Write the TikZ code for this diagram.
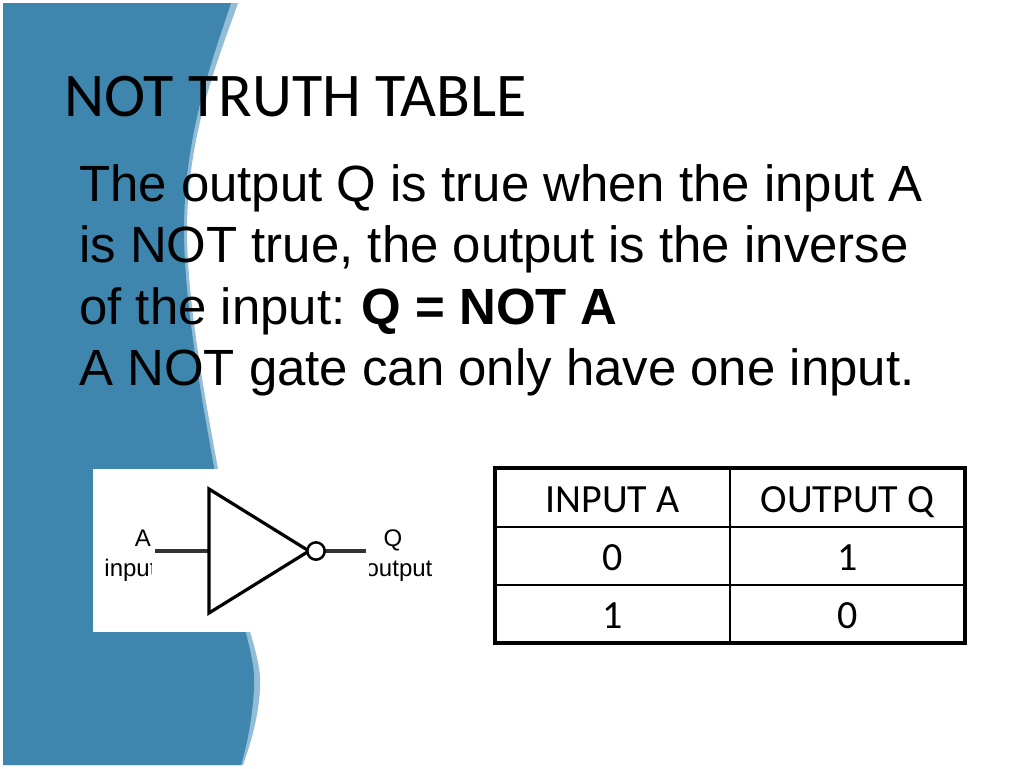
\documentclass[tikz,border=0pt]{standalone}
\usepackage{fontspec}
\setmainfont{Liberation Sans}
\newfontfamily\carlito{Carlito}
\usetikzlibrary{calc}
\definecolor{bandblue}{HTML}{3F86AF}
\definecolor{bandlight}{HTML}{93BDD6}
\tikzset{
  cell/.style={font=\carlito\fontsize{30}{36}\selectfont, inner sep=0pt, anchor=base},
  gatewire/.style={line width=3pt, black!80},
  gateline/.style={line width=2.4pt, black},
  gatelabel/.style={font=\fontsize{18}{21}\selectfont, inner sep=0pt, anchor=base},
}
\begin{document}
\begin{tikzpicture}[x=0.75pt, y=-0.75pt]
    \useasboundingbox (0,0) rectangle (1024,768);
    \fill [white] (0,0) rectangle (1024,768);
    % band on the left
    \fill [bandlight] (3,3) -- (238,3) .. controls (222,50) and (187,130) .. (187,230)
      .. controls (187,330) and (222,480) .. (240,590)
      .. controls (250,640) and (262,660) .. (260,690)
      .. controls (258,720) and (250,745) .. (243,765) -- (3,765) -- cycle;
    \fill [bandblue] (3,3) -- (231,3) .. controls (216,50) and (184,130) .. (184,230)
      .. controls (184,330) and (218,480) .. (236,590)
      .. controls (246,640) and (256,660) .. (254,690)
      .. controls (252,720) and (247,745) .. (241,765) -- (3,765) -- cycle;
    % title and text
    \node (title) [anchor=base west, inner sep=0pt, font=\carlito\fontsize{46.6}{56}\selectfont] at (64,116) {NOT TRUTH TABLE};
    \node (body) [anchor=north west, inner sep=0pt, align=left, font=\fontsize{38.2}{46.1}\selectfont] at (79,164)
      {The output Q is true when the input A\\is NOT true, the output is the inverse\\of the input: \hspace{-2pt}\textbf{Q = NOT A}\\A NOT gate can only have one input.};
    % gate picture
    \fill [white] (93,469) rectangle (445,632);
    \node (labA) [gatelabel] at (143,546) {A};
    \node (labin) [gatelabel] at (130.5,576) {input};
    \node (labQ) [gatelabel] at (393,546) {Q};
    \node (labout) [gatelabel] at (399,576) {output};
    \fill [white] (152,555) rectangle (165,585);
    \fill [white] (355,555) rectangle (369,585);
    \coordinate (gtop) at (209,489);
    \coordinate (gbot) at (209,613);
    \coordinate (gtip) at (309,551);
    \coordinate (gin) at (209,551);
    \coordinate (wirein) at (155,551);
    \coordinate (wireout) at (366,551);
    \draw [gatewire] (wirein) -- (gin);
    \draw [gatewire] (gtip) -- (wireout);
    \draw [gateline, line join=miter] (gtop) -- (gbot) -- (gtip) -- cycle;
    \node (bubble) [circle, draw, line width=1.9pt, fill=white, minimum size=13pt, inner sep=0pt] at (316,551) {};
    % truth table
    \draw [line width=0.8pt] (730,468) -- (730,643);
    \foreach \y in {527,585} {
      \draw [line width=0.8pt] (495,\y) -- (965,\y);
    }
    \draw [line width=2.3pt] (495,468) rectangle (965,643);
    \node (inhead) [cell] at (612.5,512) {INPUT A};
    \node (outhead) [cell] at (847.5,512) {OUTPUT Q};
    \node (ina) [cell] at (612.5,570) {0};
    \node (outa) [cell] at (847.5,570) {1};
    \node (inb) [cell] at (612.5,628) {1};
    \node (outb) [cell] at (847.5,628) {0};
\end{tikzpicture}
\end{document}
